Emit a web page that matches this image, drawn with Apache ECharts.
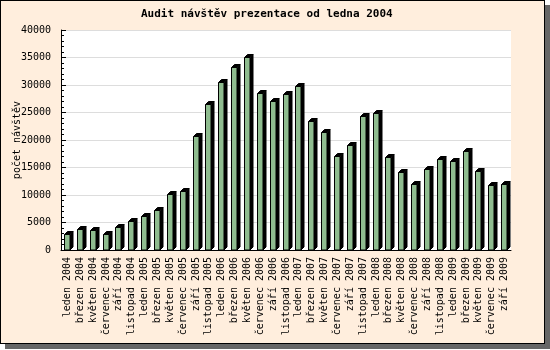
<!DOCTYPE html>
<html>
<head>
<meta charset="utf-8">
<script src="https://cdn.jsdelivr.net/npm/echarts@6/dist/echarts.min.js"></script>
<style>
html,body{margin:0;padding:0;background:#fff;}
#wrap{position:absolute;left:0;top:0;width:543px;height:342px;border:1px solid #000;background:#FFEEDD;box-shadow:5px 5px 0 #666;}
#chart{width:543px;height:342px;}
</style>
</head>
<body>
<div id="wrap"><div id="chart"></div></div>
<script>
const titleText = 'Audit návštěv prezentace od ledna 2004';
const yAxisName = 'počet návštěv';
const categories = [
  'leden 2004','březen 2004','květen 2004','červenec 2004','září 2004','listopad 2004',
  'leden 2005','březen 2005','květen 2005','červenec 2005','září 2005','listopad 2005',
  'leden 2006','březen 2006','květen 2006','červenec 2006','září 2006','listopad 2006',
  'leden 2007','březen 2007','květen 2007','červenec 2007','září 2007','listopad 2007',
  'leden 2008','březen 2008','květen 2008','červenec 2008','září 2008','listopad 2008',
  'leden 2009','březen 2009','květen 2009','červenec 2009','září 2009'
];
const visits = [
  2900, 3900, 3650, 2900, 4250, 5270,
  6250, 7270, 10180, 10730, 20730, 26550,
  30550, 33270, 35100, 28550, 27100, 28360,
  29800, 23450, 21450, 17100, 19100, 24360,
  24900, 16900, 14180, 12000, 14730, 16550,
  16240, 18060, 14420, 11820, 12000
];
const yTicks = [0, 5000, 10000, 15000, 20000, 25000, 30000, 35000, 40000];

const chart = echarts.init(document.getElementById('chart'));
const mono = 'DejaVu Sans Mono';

function renderBar(params, api) {
  const top = api.coord([api.value(0), api.value(1)]);
  const bot = api.coord([api.value(0), 0]);
  const band = api.size([1, 0])[0];
  const d = 3;
  const w = band * 0.43;
  const x0 = Math.round(top[0] - band * 0.27) + 0.5;
  const x1 = Math.round(x0 + w);
  const yt = Math.round(top[1]) + 0.5;
  const yb = Math.round(bot[1]);
  return {
    type: 'group',
    children: [
      { type: 'polygon', shape: { points: [[x1, yt], [x1 + d, yt - d], [x1 + d, yb - d], [x1, yb]] }, style: { fill: '#000', stroke: '#000', lineWidth: 1 } },
      { type: 'polygon', shape: { points: [[x0, yt], [x0 + d, yt - d], [x1 + d, yt - d], [x1, yt]] }, style: { fill: '#000', stroke: '#000', lineWidth: 1 } },
      { type: 'rect', shape: { x: x0, y: yt, width: x1 - x0, height: yb - yt }, style: { fill: '#8FBC8F', stroke: '#000', lineWidth: 1 } }
    ]
  };
}

chart.setOption({
  backgroundColor: '#FFEEDD',
  animation: false,
  title: {
    text: titleText,
    left: 135,
    top: 3,
    textStyle: { fontFamily: mono, fontSize: 11, fontWeight: 'bold', color: '#000' }
  },
  grid: {
    left: 60, right: 33, top: 29, bottom: 93,
    outerBoundsMode: 'none',
    containLabel: false,
    show: true, backgroundColor: '#fff', borderWidth: 0
  },
  xAxis: {
    type: 'category',
    data: categories,
    axisLine: { lineStyle: { color: '#000', width: 1 } },
    axisTick: { show: false },
    axisLabel: { rotate: 90, interval: 0, margin: 7, fontFamily: mono, fontSize: 10, color: '#000' }
  },
  yAxis: {
    type: 'value',
    min: yTicks[0], max: yTicks[yTicks.length - 1], interval: 5000,
    name: yAxisName,
    nameLocation: 'middle',
    nameRotate: 90,
    nameGap: 39,
    nameMoveOverlap: false,
    nameTextStyle: { fontFamily: mono, fontSize: 10, color: '#000' },
    axisLine: { show: true, lineStyle: { color: '#000', width: 1 } },
    axisTick: { show: true, inside: true, length: 5, lineStyle: { color: '#000' } },
    minorTick: { show: true, splitNumber: 5, length: 3, lineStyle: { color: '#000' } },
    axisLabel: { margin: 10, fontFamily: mono, fontSize: 10, color: '#000', formatter: v => String(v) },
    splitLine: { show: true, lineStyle: { color: '#dddddd', width: 1 } }
  },
  series: [{
    type: 'custom',
    renderItem: renderBar,
    data: visits.map((v, i) => [i, v]),
    encode: { x: 0, y: 1 },
    clip: false
  }]
});
</script>
</body>
</html>
